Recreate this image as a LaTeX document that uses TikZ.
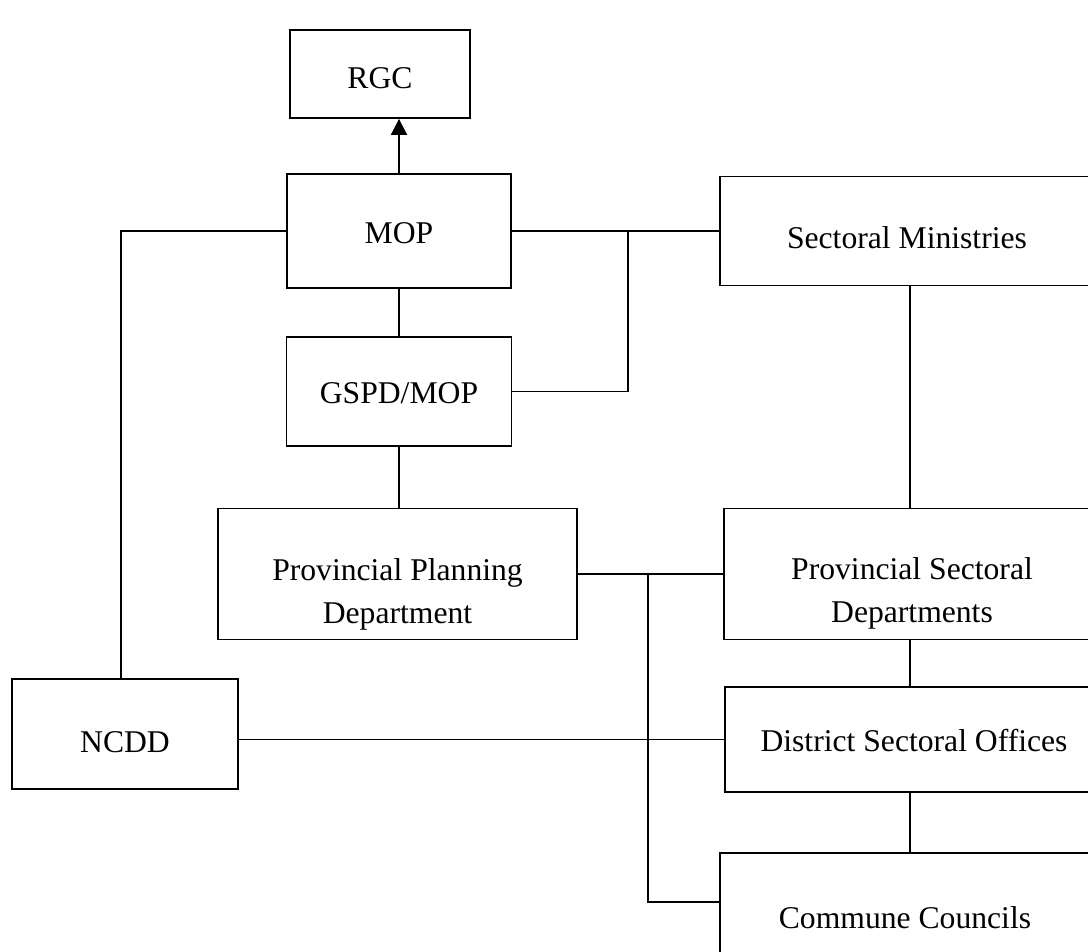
\documentclass[tikz,border=0pt]{standalone}
\usepackage{fontspec}
\setmainfont{Liberation Serif}
\usepackage{tikz}
\usetikzlibrary{arrows.meta}
\tikzstyle{orgbox}=[draw,rectangle,line width=1.3pt,inner sep=0pt,align=center,text depth=0pt,font=\fontsize{22.5}{30}\selectfont]
\tikzstyle{link}=[line width=1.3pt]

\begin{document}
\begin{tikzpicture}[x=0.025cm,y=-0.025cm]
\useasboundingbox (0,0) rectangle (1088,952);

  % left column
  \node[orgbox,minimum width=4.5cm,minimum height=2.2cm,text height=0.7cm] (rgc) at (380,74) {RGC};
  \node[orgbox,minimum width=5.6cm,minimum height=2.85cm,text height=0.6cm] (mop) at (399,231) {MOP};
  \node[orgbox,minimum width=5.625cm,minimum height=2.725cm,text height=0.575cm] (gspd) at (399,391.5) {GSPD/MOP};
  \node[orgbox,minimum width=8.975cm,minimum height=3.275cm,text height=2.45cm] (ppd) at (397.5,574) {Provincial Planning\\Department};
  \node[orgbox,minimum width=5.65cm,minimum height=2.75cm,text height=0.9cm] (ncdd) at (125,734) {NCDD};

  % right column, cut by the page edge
  \node[orgbox,minimum width=9.35cm,minimum height=2.725cm,text height=0.85cm] (sm) at (907,231) {Sectoral Ministries};
  \node[orgbox,minimum width=9.4cm,minimum height=3.275cm,text height=2.4cm] (psd) at (912,574) {Provincial Sectoral\\Departments};
  \node[orgbox,minimum width=9.45cm,minimum height=2.625cm,text height=0.575cm] (dso) at (914,739.5) {District Sectoral Offices};
  \node[orgbox,minimum width=9.25cm,minimum height=2.95cm,text height=0.8cm] (cc) at (905,912) {Commune Councils};

  \coordinate (jtop) at (628,231);
  \coordinate (jmid) at (648,574);
  \coordinate (spine) at (910,0);
  \coordinate (ncup) at (121,0);
  \coordinate (ccin) at (720,902);

  \draw[link,-{Triangle[length=0.4cm,width=0.4cm]}] (mop.north) -- (mop.north |- rgc.south);
  \draw[link] (mop.south) -- (gspd.north);
  \draw[link] (gspd.south) -- (gspd.south |- ppd.north);
  \draw[link] (ncdd.north -| ncup) |- (mop.west);
  \draw[link] (mop.east) -- (sm.west);
  \draw[link] (gspd.east) -| (jtop);
  \draw[link] (ppd.east) -- (psd.west);
  \draw[link] (jmid) |- (ccin);
  \draw[link] (ncdd.east |- dso.west) -- (dso.west);
  \draw[link] (sm.south -| spine) -- (psd.north -| spine);
  \draw[link] (psd.south -| spine) -- (dso.north -| spine);
  \draw[link] (dso.south -| spine) -- (cc.north -| spine);

\end{tikzpicture}
\end{document}
